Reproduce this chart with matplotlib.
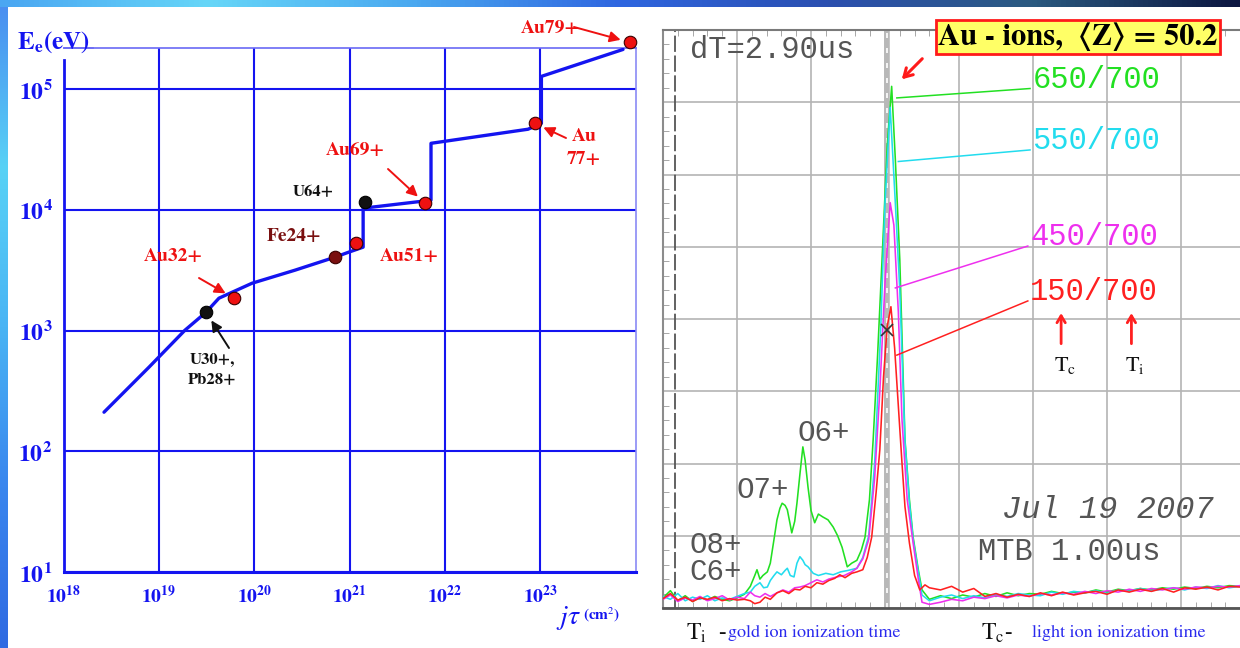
import numpy as np
import matplotlib
matplotlib.use("Agg")
import matplotlib.pyplot as plt
from matplotlib.colors import LinearSegmentedColormap
from matplotlib.ticker import FixedLocator, MultipleLocator, NullLocator

plt.rcParams["mathtext.fontset"] = "stix"

W, H = 1240, 648
BLUE = "#1414f0"
SERIF = ["STIXGeneral", "DejaVu Serif"]
MONO = "Liberation Mono"

# ---------------- left panel data: E_e versus j*tau ----------------
jt_curve = [2.66e18, 7.9e18, 1.88e19, 3.13e19, 4.27e19, 9.5e19, 2.68e20, 7.05e20,
            9.77e20, 1.39e21, 1.39e21, 7.16e21, 7.16e21, 7.46e22, 1.03e23, 1.03e23, 7.4e23]
ee_curve = [211, 499, 1009, 1422, 1858, 2472, 3171, 4064,
            4467, 4920, 10350, 12050, 35700, 46700, 52300, 128000, 2.14e5]

ion_names = ["U30+,\nPb28+", "Au32+", "Fe24+", "Au51+", "U64+", "Au69+", "Au\n77+", "Au79+"]
ion_jt = [3.13e19, 6.15e19, 7.05e20, 1.18e21, 1.46e21, 6.2e21, 8.73e22, 8.77e23]
ion_ee = [1422, 1858, 4064, 5310, 11590, 11380, 52300, 2.45e5]
ion_colors = ["#111111", "#ee1111", "#7a1010", "#ee1111", "#111111", "#ee1111", "#ee1111", "#ee1111"]

x_ticks = [1e18, 1e19, 1e20, 1e21, 1e22, 1e23]
x_ticklabels = [r"$\mathbf{10^{18}}$", r"$\mathbf{10^{19}}$", r"$\mathbf{10^{20}}$",
                r"$\mathbf{10^{21}}$", r"$\mathbf{10^{22}}$", r"$\mathbf{10^{23}}$"]
y_ticks = [1e1, 1e2, 1e3, 1e4, 1e5]
y_ticklabels = [r"$\mathbf{10^{1}}$", r"$\mathbf{10^{2}}$", r"$\mathbf{10^{3}}$",
                r"$\mathbf{10^{4}}$", r"$\mathbf{10^{5}}$"]

# ---------------- right panel data: scope traces (divisions) ----------------
scope_x_left = [0.0, 0.1, 0.2, 0.3, 0.4, 0.5, 0.6, 0.7, 0.8, 0.9, 1.0, 1.1]
scope_x_right = [3.60, 3.75, 3.90, 4.05, 4.20, 4.35, 4.50, 4.65, 4.80, 4.95, 5.10, 5.25,
                 5.40, 5.55, 5.70, 5.85, 6.00, 6.15, 6.30, 6.45, 6.60, 6.75, 6.90, 7.05,
                 7.20, 7.35, 7.50, 7.65, 7.80]

green_left = [0.14, 0.24, 0.10, 0.17, 0.09, 0.15, 0.11, 0.16, 0.12, 0.10, 0.14, 0.19]
green_mid_x = [1.18, 1.24, 1.27, 1.31, 1.35, 1.41, 1.45, 1.50, 1.54, 1.58, 1.61, 1.65, 1.68,
               1.72, 1.74, 1.78, 1.81, 1.85, 1.89, 1.92, 1.96, 2.00, 2.05, 2.10, 2.16, 2.23,
               2.30, 2.36, 2.42, 2.49, 2.55, 2.62, 2.68, 2.73, 2.79, 2.84, 2.90, 2.96, 3.03,
               3.09, 3.14, 3.20, 3.27, 3.33, 3.38, 3.45, 3.50]
green_mid = [0.30, 0.45, 0.53, 0.40, 0.45, 0.50, 0.62, 0.95, 1.22, 1.38, 1.45, 1.42, 1.36,
             1.15, 1.04, 1.20, 1.45, 1.85, 2.23, 2.05, 1.67, 1.35, 1.18, 1.30, 1.26, 1.22,
             1.12, 1.00, 0.84, 0.57, 0.62, 0.66, 0.80, 0.98, 1.50, 2.33, 3.50, 4.82, 6.40,
             7.22, 6.20, 4.82, 2.33, 1.50, 0.98, 0.53, 0.25]
green_right = [0.12, 0.17, 0.13, 0.18, 0.15, 0.20, 0.16, 0.21, 0.17, 0.20, 0.19, 0.23, 0.20,
               0.22, 0.21, 0.25, 0.22, 0.26, 0.24, 0.27, 0.25, 0.28, 0.26, 0.29, 0.27, 0.30,
               0.28, 0.31, 0.30]

cyan_left = [0.16, 0.12, 0.20, 0.10, 0.15, 0.12, 0.17, 0.10, 0.14, 0.12, 0.16, 0.20]
cyan_mid_x = [1.18, 1.24, 1.31, 1.36, 1.41, 1.45, 1.50, 1.54, 1.60, 1.65, 1.68, 1.72, 1.77,
              1.81, 1.85, 1.89, 1.92, 1.96, 2.03, 2.10, 2.20, 2.30, 2.40, 2.50, 2.62, 2.70,
              2.78, 2.86, 2.94, 3.00, 3.07, 3.14, 3.20, 3.27, 3.33, 3.38, 3.45, 3.50]
cyan_mid = [0.22, 0.30, 0.35, 0.28, 0.29, 0.38, 0.45, 0.50, 0.46, 0.52, 0.55, 0.45, 0.43,
            0.62, 0.71, 0.66, 0.60, 0.57, 0.48, 0.45, 0.48, 0.46, 0.50, 0.52, 0.55, 0.70,
            1.00, 2.00, 3.80, 5.60, 6.93, 5.60, 4.40, 2.30, 1.45, 0.95, 0.50, 0.18]
cyan_right = [0.10, 0.15, 0.18, 0.13, 0.17, 0.14, 0.19, 0.16, 0.20, 0.18, 0.17, 0.22, 0.19,
              0.23, 0.21, 0.24, 0.20, 0.25, 0.23, 0.27, 0.24, 0.26, 0.28, 0.25, 0.29, 0.27,
              0.31, 0.28, 0.30]

magenta_left = [0.12, 0.18, 0.09, 0.14, 0.11, 0.16, 0.10, 0.13, 0.17, 0.11, 0.15, 0.13]
magenta_mid_x = [1.18, 1.24, 1.31, 1.38, 1.45, 1.54, 1.62, 1.70, 1.78, 1.85, 1.92, 2.00,
                 2.08, 2.16, 2.24, 2.35, 2.45, 2.55, 2.62, 2.70, 2.78, 2.86, 2.93, 3.00,
                 3.07, 3.12, 3.18, 3.23, 3.30, 3.38, 3.45, 3.50]
magenta_mid = [0.22, 0.17, 0.15, 0.20, 0.16, 0.21, 0.25, 0.22, 0.28, 0.29, 0.31, 0.35,
               0.39, 0.36, 0.40, 0.43, 0.45, 0.50, 0.55, 0.68, 0.95, 1.80, 3.00, 4.50,
               5.61, 5.30, 4.10, 2.60, 1.50, 0.90, 0.40, 0.08]
magenta_right = [0.05, 0.08, 0.12, 0.10, 0.15, 0.13, 0.17, 0.14, 0.18, 0.16, 0.20, 0.18,
                 0.21, 0.19, 0.23, 0.20, 0.24, 0.22, 0.26, 0.23, 0.27, 0.25, 0.28, 0.26,
                 0.29, 0.28, 0.30, 0.29, 0.31]

red_left = [0.13, 0.20, 0.11, 0.15, 0.09, 0.14, 0.12, 0.15, 0.10, 0.13, 0.11, 0.12]
red_mid_x = [1.18, 1.24, 1.31, 1.38, 1.45, 1.54, 1.62, 1.70, 1.78, 1.85, 1.92, 2.00, 2.08,
             2.16, 2.24, 2.32, 2.39, 2.46, 2.55, 2.62, 2.70, 2.76, 2.82, 2.88, 2.93, 2.98,
             3.03, 3.08, 3.13, 3.18, 3.23, 3.27, 3.33, 3.40, 3.47, 3.54]
red_mid = [0.10, 0.06, 0.08, 0.15, 0.12, 0.21, 0.24, 0.20, 0.26, 0.25, 0.30, 0.28, 0.35,
           0.33, 0.38, 0.41, 0.46, 0.42, 0.48, 0.50, 0.53, 0.70, 0.98, 1.60, 2.19, 3.20,
           3.90, 4.17, 3.60, 2.80, 2.00, 1.40, 0.90, 0.45, 0.25, 0.32]
red_right = [0.28, 0.25, 0.30, 0.22, 0.27, 0.16, 0.20, 0.15, 0.19, 0.16, 0.21, 0.17, 0.22,
             0.18, 0.21, 0.23, 0.19, 0.25, 0.22, 0.26, 0.23, 0.27, 0.22, 0.28, 0.26, 0.29,
             0.25, 0.30, 0.29]

trace_names = ["650/700", "550/700", "450/700", "150/700"]
trace_colors = ["#22e022", "#22dcee", "#ee30ee", "#ff2020"]
traces = [
    (green_mid_x, green_left, green_mid, green_right),
    (cyan_mid_x, cyan_left, cyan_mid, cyan_right),
    (magenta_mid_x, magenta_left, magenta_mid, magenta_right),
    (red_mid_x, red_left, red_mid, red_right),
]


def fpx(x, y):
    """reference pixel -> figure fraction"""
    return x / W, 1 - y / H


fig = plt.figure(figsize=(W / 100, H / 100), dpi=100)
fig.patch.set_facecolor("white")

# slide decoration: gradient strips at top and left
top_cmap = LinearSegmentedColormap.from_list(
    "top", ["#4aa6f2", "#66d6f8", "#4aa8f0", "#2f66e0", "#2a4fb0", "#2a5a80", "#0c1640"])
left_cmap = LinearSegmentedColormap.from_list(
    "left", ["#4a8ff0", "#58d2f6", "#49b4f4", "#3a86ee", "#2f6ae2"])
grad = np.linspace(0, 1, 256)
ax_top = fig.add_axes([0, 1 - 7 / H, 1, 7 / H])
ax_top.imshow(grad[None, :], aspect="auto", cmap=top_cmap)
ax_top.set_axis_off()
ax_left = fig.add_axes([0, 0, 8 / W, 1 - 7 / H])
ax_left.imshow(grad[:, None], aspect="auto", cmap=left_cmap)
ax_left.set_axis_off()

# ---------------- left panel ----------------
ax1 = fig.add_axes([63.5 / W, 1 - 572 / H, 572 / W, 524 / H])
ax1.set_xscale("log")
ax1.set_yscale("log")
ax1.set_xlim(1e18, 1e24)
ax1.set_ylim(10, 2.2e5)
ax1.xaxis.set_major_locator(FixedLocator(x_ticks))
ax1.yaxis.set_major_locator(FixedLocator(y_ticks))
ax1.xaxis.set_minor_locator(NullLocator())
ax1.yaxis.set_minor_locator(NullLocator())
ax1.set_xticklabels(x_ticklabels)
ax1.set_yticklabels(y_ticklabels)
ax1.tick_params(axis="x", length=0, pad=9, labelsize=14, labelcolor=BLUE)
ax1.tick_params(axis="y", length=0, pad=8, labelsize=17, labelcolor=BLUE)
ax1.grid(True, color=BLUE, lw=1.5)
ax1.xaxis.get_gridlines()[0].set_visible(False)
for side in ["left", "right", "top", "bottom"]:
    ax1.spines[side].set_color(BLUE)
ax1.spines["bottom"].set_linewidth(2.2)
ax1.spines["left"].set_linewidth(2.0)
ax1.spines["top"].set_linewidth(1.2)
ax1.spines["top"].set_color("#6a6af5")
ax1.spines["right"].set_linewidth(1.2)
ax1.spines["right"].set_color("#8a8af5")
ax1.spines["left"].set_bounds(10, 1.74e5)
fig.add_artist(plt.Line2D([93 / W, 63.5 / W], [1 - 48 / H, 1 - 48 / H],
                          color="#6a6af5", lw=1.2))

ax1.plot(jt_curve, ee_curve, color=BLUE, lw=2.4, solid_capstyle="round", zorder=3)
for jt, ee, c in zip(ion_jt, ion_ee, ion_colors):
    ax1.plot(jt, ee, "o", ms=9, color=c, mec="#3a0000" if c != "#111111" else "#000000",
             mew=0.8, zorder=4, clip_on=False)

# ion labels: (name index, ref px centre, colour, arrow tail px or None)
label_layout = [
    (0, (212, 369), "#111111", (229, 348)),
    (1, (173, 257), "#ee1111", (199, 278)),
    (2, (294, 237), "#7a1010", None),
    (3, (409, 257), "#ee1111", None),
    (4, (313, 192), "#111111", None),
    (5, (355, 151), "#ee1111", (388, 169)),
    (6, (584, 148), "#ee1111", (566, 138)),
    (7, (550, 28), "#ee1111", (574, 27)),
]
for idx, (cx, cy), col, tail in label_layout:
    ax1.text(*fpx(cx, cy), ion_names[idx], transform=fig.transFigure, ha="center",
             va="center", color=col, fontsize=14 if col != "#111111" else 12,
             fontweight="bold", family=SERIF, linespacing=1.5)
    if tail is not None:
        ax1.annotate("", xy=(ion_jt[idx], ion_ee[idx]), xycoords="data",
                     xytext=fpx(*tail), textcoords="figure fraction",
                     arrowprops=dict(arrowstyle="-|>", color=col, lw=1.4,
                                     mutation_scale=16, shrinkA=0, shrinkB=7),
                     annotation_clip=False)

fig.text(*fpx(17, 42), r"$\mathbf{E_e(eV)}$", color=BLUE, fontsize=18, ha="left", va="center")
fig.text(*fpx(556, 618), r"$\mathbf{\mathit{j\tau}}$", color=BLUE, fontsize=20,
         ha="left", va="center")
fig.text(*fpx(583, 615), r"(cm$^2$)", color=BLUE, fontsize=11, ha="left", va="center",
         family=SERIF, fontweight="bold")

# ---------------- right panel: oscilloscope ----------------
scope_w = (W - 663) / 74
ax2 = fig.add_axes([663 / W, 1 - 608 / H, (W - 663) / W, 578 / H])
ax2.set_xlim(0, scope_w)
ax2.set_ylim(0, 8)
ax2.xaxis.set_major_locator(MultipleLocator(1))
ax2.yaxis.set_major_locator(MultipleLocator(1))
ax2.xaxis.set_minor_locator(MultipleLocator(0.2))
ax2.yaxis.set_minor_locator(MultipleLocator(0.2))
ax2.tick_params(which="major", length=0, labelbottom=False, labelleft=False)
ax2.tick_params(which="minor", direction="in", length=4, color="#999999",
                top=True, bottom=True, left=True, right=False)
ax2.grid(True, which="major", color="#b4b4b4", lw=1.2)
ax2.spines["right"].set_visible(False)
ax2.spines["left"].set_color("#8c8c8c")
ax2.spines["left"].set_linewidth(1.5)
ax2.spines["top"].set_color("#7a7a7a")
ax2.spines["top"].set_linewidth(1.5)
ax2.spines["bottom"].set_color("#555555")
ax2.spines["bottom"].set_linewidth(2)

ax2.axvline(0.16, color="#555555", lw=1.3, ls=(0, (9, 2)), zorder=2)
ax2.axvline(3.03, color="#b8b8b8", lw=4, zorder=2)
ax2.axvline(3.03, color="white", lw=1.2, ls=(0, (3, 6)), zorder=2)

for (mx, yl, ym, yr), col in zip(traces, trace_colors):
    xs = scope_x_left + mx + scope_x_right
    ys = yl + ym + yr
    ax2.plot(xs, ys, color=col, lw=1.15, zorder=3)

ax2.plot(3.03, 3.85, "x", color="#333333", ms=8, mew=1.2, zorder=5)

# leader lines & trace labels
label_pos = [(4.99, 7.31), (4.99, 6.46), (4.96, 5.13), (4.96, 4.37)]
leader_ends = [(3.16, 7.06), (3.18, 6.18), (3.14, 4.43), (3.16, 3.50)]
for name, col, (tx, ty), (lx, ly) in zip(trace_names, trace_colors, label_pos, leader_ends):
    ax2.text(tx, ty, name, color=col, family=MONO, fontsize=22, ha="left", va="center")
    ax2.plot([tx - 0.03, lx], [ty - 0.12, ly], color=col, lw=1.1, zorder=4)

TXT = "#555555"
ax2.text(0.36, 7.72, "dT=2.90us", family=MONO, fontsize=22, color=TXT,
         ha="left", va="center")
ax2.text(1.82, 2.42, "O6+", family=MONO, fontsize=21, color=TXT, ha="left", va="center")
ax2.text(1.00, 1.63, "O7+", family=MONO, fontsize=21, color=TXT, ha="left", va="center")
ax2.text(0.36, 0.87, "O8+", family=MONO, fontsize=21, color=TXT, ha="left", va="center")
ax2.text(0.36, 0.50, "C6+", family=MONO, fontsize=21, color=TXT, ha="left", va="center")
ax2.text(4.58, 1.36, "Jul 19 2007", family=MONO, style="italic", fontsize=23,
         color=TXT, ha="left", va="center")
ax2.text(4.26, 0.78, "MTB 1.00us", family=MONO, fontsize=22, color=TXT,
         ha="left", va="center")

for ax_x, sub in [(5.38, "c"), (6.33, "i")]:
    ax2.annotate("", xy=(ax_x, 4.12), xytext=(ax_x, 3.62),
                 arrowprops=dict(arrowstyle="->,head_length=0.5,head_width=0.3",
                                 color="#ff2020", lw=2))
    ax2.text(ax_x + 0.05, 3.36, r"T$_\mathrm{%s}$" % sub, fontsize=16, family=SERIF,
             color="#111111", ha="center", va="center")

# highlighted title box and arrow
fig.text(*fpx(1078, 37), "Au - ions,  \u27e8Z\u27e9 = 50.2", family=SERIF,
         fontweight="bold", fontsize=22, ha="center", va="center", color="black",
         bbox=dict(boxstyle="square,pad=0.08", fc="#ffff66", ec="#ff1a1a", lw=2))
ax2.annotate("", xy=(3.20, 7.29), xytext=(3.53, 7.63),
             arrowprops=dict(arrowstyle="->,head_length=0.6,head_width=0.35",
                             color="#ff1a1a", lw=2.2), annotation_clip=False)

# caption below scope
fig.text(*fpx(686, 633), r"T$_\mathrm{i}$  -", family=SERIF, fontsize=17,
         color="#111111", ha="left", va="center")
fig.text(*fpx(728, 633), "gold ion ionization time", family=SERIF, fontsize=13,
         color="#2a2aee", ha="left", va="center")
fig.text(*fpx(981, 633), r"T$_\mathrm{c}$-", family=SERIF, fontsize=17,
         color="#111111", ha="left", va="center")
fig.text(*fpx(1032, 633), "light ion ionization time", family=SERIF, fontsize=13,
         color="#2a2aee", ha="left", va="center")

fig.savefig("out.png", dpi=100, facecolor="white")
